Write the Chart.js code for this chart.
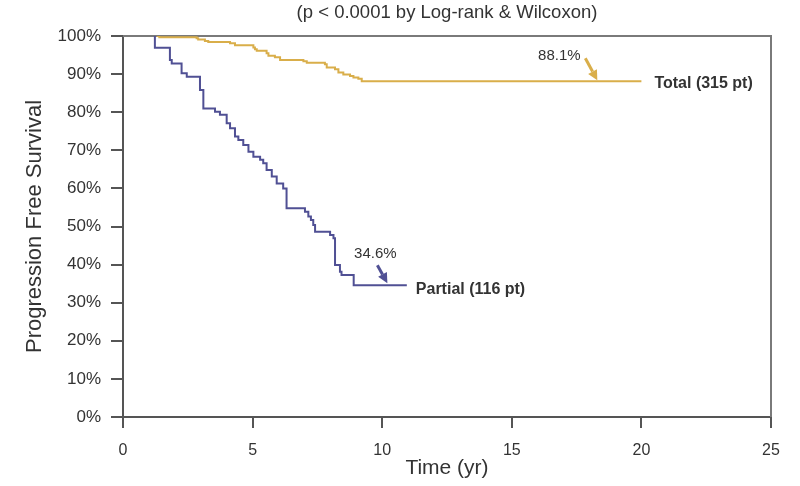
<!DOCTYPE html>
<html>
<head>
<meta charset="utf-8">
<script src="https://cdn.jsdelivr.net/npm/chart.js@4.4.0/dist/chart.umd.min.js"></script>
<style>
  html, body { margin: 0; padding: 0; background: #fff; }
  #wrap { width: 800px; height: 486px; }
</style>
</head>
<body>
<div id="wrap"><canvas id="km"></canvas></div>
<script>
  // Kaplan-Meier steps: time (yr) -> survival (%) after the drop
  const totalT   = [1.3, 1.4, 2.84, 2.9, 3.16, 3.29, 4.13, 4.32, 5.03, 5.09, 5.16, 5.54, 5.61, 5.86, 6.06, 6.96, 7.09, 7.79, 7.86, 8.18, 8.31, 8.5, 8.76, 8.89, 9.08, 9.21, 20.0];
  const totalV   = [100, 99.7, 99.4, 99.1, 98.7, 98.4, 98.1, 97.6, 97.0, 96.5, 96.1, 95.5, 94.8, 94.4, 93.7, 93.4, 93.0, 92.6, 91.7, 91.3, 90.4, 89.9, 89.5, 89.1, 88.8, 88.1, 88.1];
  const partialT = [1.2, 1.23, 1.81, 1.88, 2.26, 2.46, 2.97, 3.10, 3.55, 3.74, 4.00, 4.13, 4.32, 4.45, 4.64, 4.84, 5.03, 5.29, 5.41, 5.54, 5.74, 5.93, 6.18, 6.31, 7.02, 7.15, 7.25, 7.34, 7.41, 7.99, 8.12, 8.18, 8.37, 8.43, 8.9, 10.95];
  const partialV = [100, 96.9, 93.7, 92.8, 90.2, 89.3, 85.8, 81.0, 80.1, 79.3, 77.1, 75.8, 73.6, 72.7, 71.4, 69.6, 68.3, 67.5, 66.6, 64.8, 63.1, 61.3, 60.0, 54.8, 53.9, 52.6, 51.7, 50.4, 48.6, 47.8, 46.9, 39.9, 38.1, 37.3, 34.6, 34.6];

  const xTicks = [0, 5, 10, 15, 20, 25];
  const yTicks = [0, 10, 20, 30, 40, 50, 60, 70, 80, 90, 100];

  const TITLE = '(p < 0.0001 by Log-rank & Wilcoxon)';
  const GOLD = '#d9ae4a', NAVY = '#505094', AXIS = '#555', TXT = '#333';
  const FONT = 'Arial, "Liberation Sans", sans-serif';

  const pts = (ts, vs) => ts.map((t, i) => ({ x: t, y: vs[i] }));

  function arrow(ctx, x0, y0, x1, y1, color) {
    const a = Math.atan2(y1 - y0, x1 - x0), L = 10, W = 5;
    ctx.save();
    ctx.strokeStyle = color; ctx.fillStyle = color; ctx.lineWidth = 3;
    ctx.beginPath(); ctx.moveTo(x0, y0);
    ctx.lineTo(x1 - L * Math.cos(a), y1 - L * Math.sin(a)); ctx.stroke();
    ctx.beginPath();
    ctx.moveTo(x1, y1);
    ctx.lineTo(x1 - L * Math.cos(a) + W * Math.sin(a), y1 - L * Math.sin(a) - W * Math.cos(a));
    ctx.lineTo(x1 - L * Math.cos(a) - W * Math.sin(a), y1 - L * Math.sin(a) + W * Math.cos(a));
    ctx.closePath(); ctx.fill();
    ctx.restore();
  }

  // frame, title and the two end-of-curve annotations
  const decor = {
    id: 'decor',
    beforeDatasetsDraw(chart) {
      const { ctx, chartArea: a } = chart;
      ctx.save();
      ctx.strokeStyle = '#7a7a7a'; ctx.lineWidth = 2;
      ctx.beginPath(); ctx.moveTo(a.left, a.top); ctx.lineTo(a.right, a.top); ctx.lineTo(a.right, a.bottom); ctx.stroke();
      ctx.fillStyle = TXT; ctx.font = '18.5px ' + FONT;
      ctx.textAlign = 'center'; ctx.textBaseline = 'middle';
      ctx.fillText(TITLE, (a.left + a.right) / 2, 13);
      ctx.restore();
    },
    afterDatasetsDraw(chart) {
      const { ctx, scales: { x, y } } = chart;
      const tEnd = totalT[totalT.length - 1], tVal = totalV[totalV.length - 1];
      const pEnd = partialT[partialT.length - 1], pVal = partialV[partialV.length - 1];

      const tx = x.getPixelForValue(18.3), ty = y.getPixelForValue(tVal) - 1;
      arrow(ctx, tx - 12, ty - 22, tx, ty, GOLD);
      const px = x.getPixelForValue(10.2), py = y.getPixelForValue(pVal) - 2;
      arrow(ctx, px - 10, py - 18, px, py, NAVY);

      ctx.save();
      ctx.fillStyle = TXT; ctx.textBaseline = 'middle';
      ctx.font = '15px ' + FONT; ctx.textAlign = 'center';
      ctx.fillText(tVal.toFixed(1) + '%', tx - 38, ty - 24);
      ctx.fillText(pVal.toFixed(1) + '%', px - 12, py - 29);
      ctx.font = 'bold 16px ' + FONT; ctx.textAlign = 'left';
      ctx.fillText('Total (315 pt)', x.getPixelForValue(tEnd) + 13, y.getPixelForValue(tVal) + 2);
      ctx.fillText('Partial (116 pt)', x.getPixelForValue(pEnd) + 9, y.getPixelForValue(pVal) + 4);
      ctx.restore();
    }
  };

  new Chart(document.getElementById('km'), {
    type: 'line',
    data: {
      datasets: [
        { label: 'Total (315 pt)', data: pts(totalT, totalV), borderColor: GOLD, borderWidth: 2, stepped: 'before', pointRadius: 0, fill: false },
        { label: 'Partial (116 pt)', data: pts(partialT, partialV), borderColor: NAVY, borderWidth: 2, stepped: 'before', pointRadius: 0, fill: false }
      ]
    },
    options: {
      responsive: true, maintainAspectRatio: false, animation: false,
      layout: { padding: { top: 36, right: 29, left: 0, bottom: 0 } },
      plugins: { legend: { display: false }, tooltip: { enabled: false }, title: { display: false } },
      scales: {
        x: {
          type: 'linear', min: 0, max: 25,
          afterFit: s => { s.height = 69; },
          afterBuildTicks: s => { s.ticks = xTicks.map(v => ({ value: v })); },
          border: { display: true, color: AXIS, width: 2 },
          grid: { drawOnChartArea: false, drawTicks: true, tickLength: 11, tickColor: AXIS, lineWidth: 2 },
          ticks: { color: TXT, font: { family: FONT, size: 16 }, padding: 13, maxRotation: 0 },
          title: { display: true, text: 'Time (yr)', color: TXT, font: { family: FONT, size: 21 }, padding: { top: 0, bottom: 5 } }
        },
        y: {
          type: 'linear', min: 0, max: 100,
          afterFit: s => { s.width = 123; },
          afterBuildTicks: s => { s.ticks = yTicks.map(v => ({ value: v })); },
          border: { display: true, color: AXIS, width: 2 },
          grid: { drawOnChartArea: false, drawTicks: true, tickLength: 12, tickColor: AXIS, lineWidth: 2 },
          ticks: { color: TXT, font: { family: FONT, size: 17 }, padding: 10, callback: v => v + '%' },
          title: { display: true, text: 'Progression Free Survival', color: TXT, font: { family: FONT, size: 22 }, padding: { top: 22, bottom: 0 } }
        }
      }
    },
    plugins: [decor]
  });
</script>
</body>
</html>
